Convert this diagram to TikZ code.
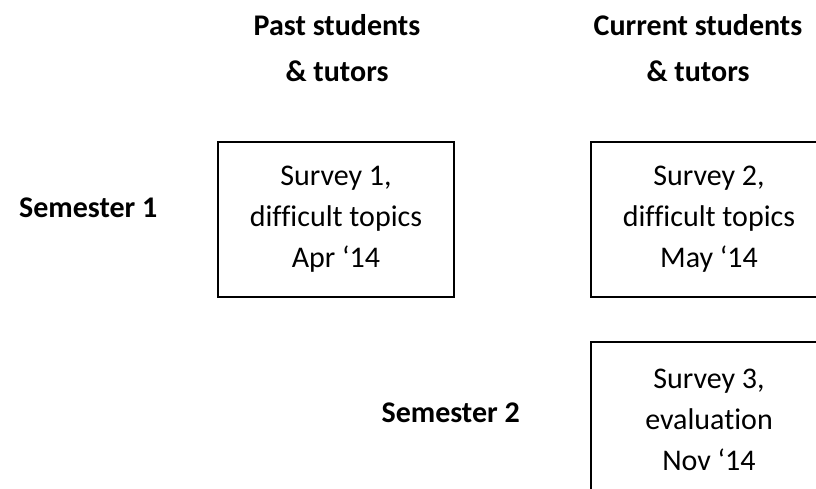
\documentclass[tikz,border=0pt]{standalone}
\usepackage{fontspec}
\setmainfont{Carlito}[Ligatures=NoCommon]
\tikzset{
  every node/.style={font=\fontsize{30}{41}\selectfont, text=black},
  hdr/.style={font=\fontsize{30}{46}\selectfont\bfseries, align=center, inner sep=0pt},
  sem/.style={font=\fontsize{30}{36}\selectfont\bfseries, inner sep=0pt},
  survey/.style={draw=black, line width=1.2pt, align=center, minimum width=236pt, minimum height=155pt, inner sep=0pt},
}
\begin{document}
\begin{tikzpicture}[x=1pt,y=-1pt]
\useasboundingbox (0,0) rectangle (816,489);
\clip (0,0) rectangle (816,489);
\fill[white] (0,0) rectangle (816,489);
% column heads
\node[hdr, anchor=base] (past) at (337,82) {Past students\\\& tutors};
\node[hdr, anchor=base] (curr) at (698,82) {Current students\\\& tutors};
% row heads
\node[sem, anchor=base west] (sem1) at (19,218) {Semester 1};
\node[sem, anchor=base east] (sem2) at (520,422) {Semester 2};
% surveys
\node[survey] (s1) at (336,219.5) {Survey 1,\\difficult topics\\Apr ‘14};
\node[survey] (s2) at (709,219.5) {Survey 2,\\difficult topics\\May ‘14};
\node[survey] (s3) at (709,419.5) {Survey 3,\\evaluation\\Nov ‘14};
\end{tikzpicture}
\end{document}
